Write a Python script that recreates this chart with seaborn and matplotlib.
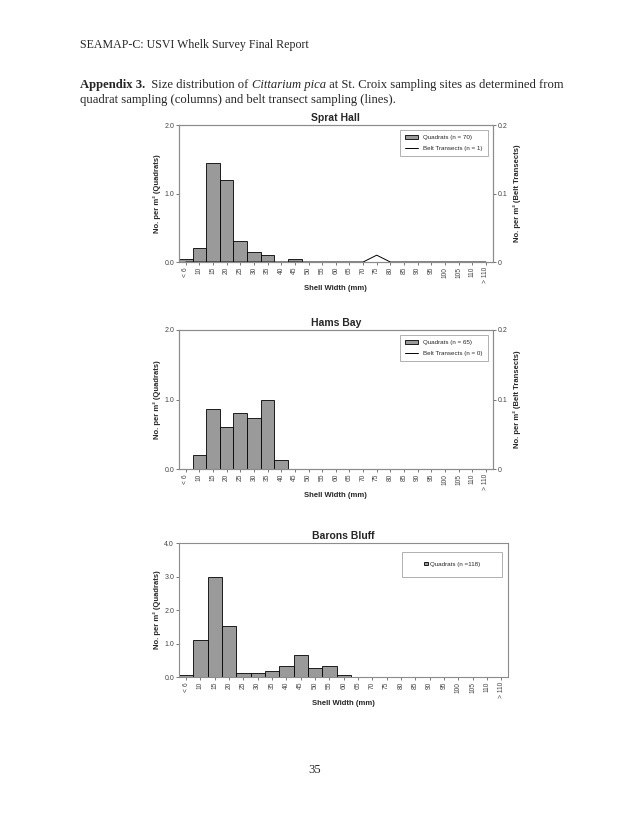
import seaborn as sns
import matplotlib.pyplot as plt
import matplotlib.patches as mpatches
import matplotlib.lines as mlines
import numpy as np
import pandas as pd

# size classes (shell width, mm)
size_classes = ["< 6", "10", "15", "20", "25", "30", "35", "40", "45", "50", "55", "60",
                "65", "70", "75", "80", "85", "90", "95", "100", "105", "110", "> 110"]

# Sprat Hall
sprat_quadrats = [0.05, 0.2, 1.45, 1.2, 0.3, 0.15, 0.1, 0.0, 0.05, 0, 0, 0,
                  0, 0, 0, 0, 0, 0, 0, 0, 0, 0, 0]
sprat_belt = [0, 0, 0, 0, 0, 0, 0, 0, 0, 0, 0, 0,
              0, 0, 0.01, 0, 0, 0, 0, 0, 0, 0, 0]

# Hams Bay
hams_quadrats = [0.0, 0.2, 0.87, 0.6, 0.8, 0.73, 1.0, 0.13, 0, 0, 0, 0,
                 0, 0, 0, 0, 0, 0, 0, 0, 0, 0, 0]
hams_belt = [0] * 23

# Barons Bluff
barons_quadrats = [0.06, 1.12, 3.0, 1.53, 0.12, 0.12, 0.19, 0.33, 0.67, 0.26, 0.33, 0.06,
                   0, 0, 0, 0, 0, 0, 0, 0, 0, 0, 0]

sns.set_style("white")
plt.rcParams['font.family'] = ['Liberation Sans', 'DejaVu Sans']

BAR_COLOR = "#9a9a9a"
SPINE_COLOR = "#8c8c8c"

fig = plt.figure(figsize=(6.3, 8.15), dpi=100)


def draw_panel(rect, title, quadrats, ymax, yticks, qlabel, belt=None, blabel=None):
    ax = fig.add_axes(rect)
    df = pd.DataFrame({"size": size_classes, "value": quadrats})
    sns.barplot(data=df, x="size", y="value", color=BAR_COLOR, edgecolor="black",
                linewidth=0.6, width=1.0, saturation=1, ax=ax)
    ax.set_xlim(-0.5, len(size_classes) - 0.5)
    ax.set_ylim(0, ymax)
    ax.set_yticks(yticks)
    ax.set_yticklabels([f"{t:.1f}" for t in yticks])
    ax.set_title(title, fontsize=7.5, fontweight="bold", pad=3)
    ax.set_xlabel("Shell Width (mm)", fontsize=5.5, fontweight="bold", labelpad=1)
    ax.set_ylabel("No. per m² (Quadrats)", fontsize=5.5, fontweight="bold", labelpad=2)
    ax.tick_params(axis="x", labelsize=4.8, rotation=90, length=2, width=0.5,
                   colors="#444444", pad=1.5, bottom=True)
    ax.tick_params(axis="y", labelsize=5, length=2, width=0.5, colors="#444444", pad=1.5, left=True)
    for s in ax.spines.values():
        s.set_color(SPINE_COLOR)
        s.set_linewidth(0.8)

    quad_patch = mpatches.Patch(facecolor=BAR_COLOR, edgecolor="black", linewidth=0.6, label=qlabel)
    if belt is not None:
        ax2 = ax.twinx()
        sns.lineplot(x=np.arange(len(size_classes)), y=belt, color="black", linewidth=0.7, ax=ax2)
        ax2.set_ylim(0, ymax / 10)
        ax2.set_yticks([0, ymax / 20, ymax / 10])
        ax2.set_yticklabels(["0", f"{ymax / 20:.1f}", f"{ymax / 10:.1f}"])
        ax2.set_ylabel("No. per m² (Belt Transects)", fontsize=5.5, fontweight="bold", labelpad=4)
        ax2.tick_params(axis="y", labelsize=5, length=2, width=0.5, colors="#444444", pad=1.5, right=True)
        for s in ax2.spines.values():
            s.set_color(SPINE_COLOR)
            s.set_linewidth(0.8)
        belt_line = mlines.Line2D([], [], color="black", linewidth=0.7, label=blabel)
        leg = ax.legend(handles=[quad_patch, belt_line], loc="upper right", fontsize=4.5,
                        frameon=True, fancybox=False, borderpad=0.8, labelspacing=0.9,
                        handlelength=2.2, handleheight=0.6, bbox_to_anchor=(0.995, 0.985))
    else:
        blank = mpatches.Patch(facecolor="none", edgecolor="none")
        leg = ax.legend(handles=[blank, quad_patch, blank], labels=["", qlabel, ""], ncol=3,
                        loc="upper right", fontsize=4.5, frameon=True, fancybox=False,
                        borderpad=1.6, handlelength=0.6, handleheight=0.6, handletextpad=0.3,
                        columnspacing=1.0, bbox_to_anchor=(0.99, 0.96))
    leg.get_frame().set_edgecolor(SPINE_COLOR)
    leg.get_frame().set_linewidth(0.6)
    return ax


draw_panel([0.284, 0.6785, 0.498, 0.168], "Sprat Hall", sprat_quadrats, 2.0, [0.0, 1.0, 2.0],
           "Quadrats (n = 70)", sprat_belt, "Belt Transects (n = 1)")
draw_panel([0.284, 0.4245, 0.498, 0.1706], "Hams Bay", hams_quadrats, 2.0, [0.0, 1.0, 2.0],
           "Quadrats (n = 65)", hams_belt, "Belt Transects (n = 0)")
draw_panel([0.284, 0.1693, 0.523, 0.1644], "Barons Bluff", barons_quadrats, 4.0,
           [0.0, 1.0, 2.0, 3.0, 4.0], "Quadrats (n =118)")

# page text
serif = ['Liberation Serif', 'DejaVu Serif']
fig.text(80 / 630, 1 - 45 / 815, "SEAMAP-C: USVI Whelk Survey Final Report", fontsize=8.6,
         family=serif, va="center")

fig.canvas.draw()
renderer = fig.canvas.get_renderer()
x = 80 / 630
y = 1 - 85 / 815
pieces = [("Appendix 3.", "bold", "normal"), ("  Size distribution of ", "normal", "normal"),
          ("Cittarium pica", "normal", "italic"),
          (" at St. Croix sampling sites as determined from", "normal", "normal")]
for txt, weight, style in pieces:
    t = fig.text(x, y, txt, fontsize=9.1, family=serif, fontweight=weight, fontstyle=style, va="center")
    bb = t.get_window_extent(renderer)
    x += bb.width / fig.bbox.width
fig.text(80 / 630, 1 - 100 / 815, "quadrat sampling (columns) and belt transect sampling (lines).",
         fontsize=9.1, family=serif, va="center")
fig.text(0.5, 1 - 770 / 815, "35", fontsize=9.1, family=serif, ha="center", va="center")

plt.savefig("out.png", dpi=100)
